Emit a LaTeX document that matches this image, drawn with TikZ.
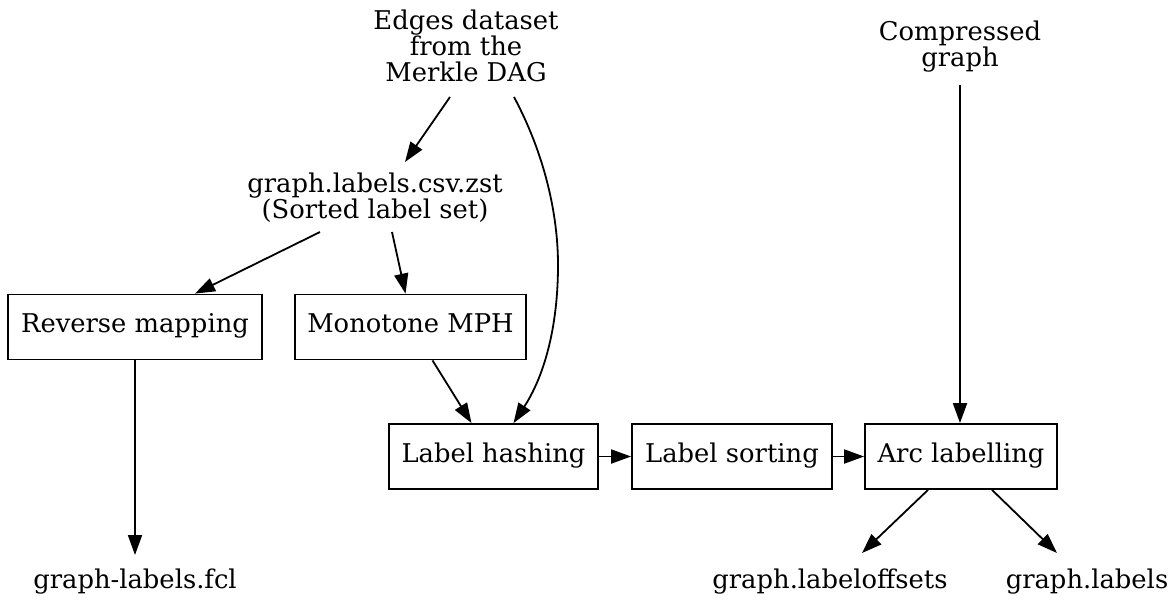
\documentclass[tikz,border=0pt]{standalone}
\usepackage{fontspec}
\setmainfont{DejaVu Serif}
\usetikzlibrary{arrows.meta,calc}
\begin{document}
\begin{tikzpicture}[x=0.5pt,y=-0.5pt,
  every node/.style={font=\fontsize{12.9}{13}\selectfont, inner sep=0pt},
  txt/.style={align=center},
  box/.style={draw, line width=0.9pt, minimum height=32.5pt, text height=1.6ex, text depth=0.45ex},
  arr/.style={line width=0.9pt, -{Triangle[length=10pt,width=7pt]}}]
\useasboundingbox (0,0) rectangle (1173,601);
\node[txt] (edges) at (466,46) {Edges dataset\\from the\\Merkle DAG};
\node[txt] (comp) at (960,47) {Compressed\\graph};
\node[txt] (csv) at (375,198) {graph.labels.csv.zst\\(Sorted label set)};
\node[box, minimum width=127pt] (rev) at (135,327) {Reverse mapping};
\node[box, minimum width=115.5pt] (mph) at (410.5,327) {Monotone MPH};
\node[box, minimum width=104.5pt] (hash) at (493.5,456.5) {Label hashing};
\node[box, minimum width=100pt] (sort) at (732,456.5) {Label sorting};
\node[box, minimum width=96pt] (arc) at (961,456.5) {Arc labelling};
\node[txt, text height=1.6ex, text depth=0.45ex] (fcl) at (135,583) {graph-labels.fcl};
\node[txt, text height=1.6ex, text depth=0.45ex] (offs) at (830,583) {graph.labeloffsets};
\node[txt, text height=1.6ex, text depth=0.45ex] (labs) at (1087,583) {graph.labels};

\draw[arr] ($(edges.center)+(-16,51)$) -- ($(csv.center)+(30,-36)$);
\draw[arr] ($(edges.center)+(48,51)$) .. controls (545,155) and (558,215) .. (558,265)
  .. controls (558,330) and (543,378) .. ($(hash.north)+(20,0)$);
\draw[arr] ($(csv.center)+(-55,34)$) -- ($(rev.north)+(60,0)$);
\draw[arr] ($(csv.center)+(17,34)$) -- ($(mph.north)+(-5,0)$);
\draw[arr] (rev.south) -- ($(fcl.center)+(0,-28)$);
\draw[arr] ($(mph.south)+(22,0)$) -- ($(hash.north)+(-22,0)$);
\draw[arr] (hash.east) -- (sort.west);
\draw[arr] (sort.east) -- (arc.west);
\draw[arr] ($(comp.center)+(0,38)$) -- ($(arc.north)+(-1,0)$);
\draw[arr] ($(arc.south)+(-33,0)$) -- ($(offs.center)+(32,-30)$);
\draw[arr] ($(arc.south)+(31,0)$) -- ($(labs.center)+(-30,-30)$);
\end{tikzpicture}
\end{document}
